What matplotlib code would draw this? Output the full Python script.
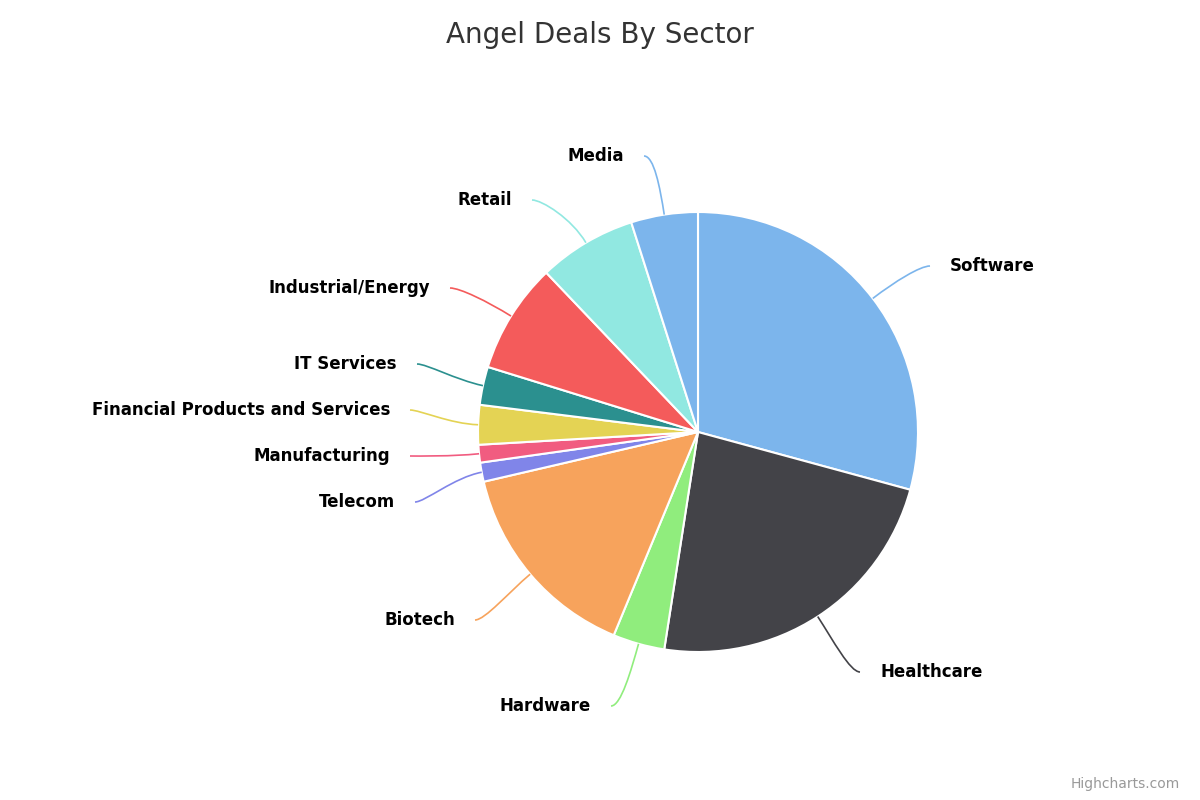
import numpy as np
import matplotlib
matplotlib.use("Agg")
import matplotlib.pyplot as plt
from matplotlib.path import Path
from matplotlib.patches import PathPatch

sectors = ["Software", "Healthcare", "Hardware", "Biotech", "Telecom", "Manufacturing",
           "Financial Products and Services", "IT Services", "Industrial/Energy", "Retail", "Media"]
shares = [29.2, 23.2, 3.8, 15.1, 1.4, 1.3, 2.9, 2.8, 8.1, 7.2, 4.9]
colors = ["#7cb5ec", "#434348", "#90ed7d", "#f7a35c", "#8085e9", "#f15c80",
          "#e4d354", "#2b908f", "#f45b5b", "#91e8e1", "#7cb5ec"]

# label layout (pixel positions, screen coords: x, y, side)
label_pos = [(950, 266, 'l'), (880, 672, 'l'), (591, 706, 'r'), (455, 620, 'r'),
             (395, 502, 'r'), (390, 456, 'r'), (390, 410, 'r'), (397, 364, 'r'),
             (430, 288, 'r'), (512, 200, 'r'), (624, 156, 'r')]

W, H = 1200, 800
cx, cy, R = 698, H - 432, 220

fig = plt.figure(figsize=(12, 8), dpi=100)
ax = fig.add_axes([0, 0, 1, 1])
ax.set_xlim(0, W); ax.set_ylim(0, H); ax.set_aspect('equal'); ax.axis('off')

wedges, _ = ax.pie(shares, colors=colors, startangle=90, counterclock=False,
                   center=(cx, cy), radius=R, frame=True,
                   wedgeprops=dict(edgecolor='white', linewidth=1.5))
ax.set_xlim(0, W); ax.set_ylim(0, H); ax.axis('off')

for w, name, col, (lx, ly, side) in zip(wedges, sectors, colors, label_pos):
    th = np.deg2rad((w.theta1 + w.theta2) / 2)
    d = np.array([np.cos(th), np.sin(th)])
    p0 = np.array([cx, cy]) + R * d
    ctrl = np.array([cx, cy]) + (R + 28) * d
    ly_d = H - ly
    if side == 'l':
        end = np.array([lx - 20, ly_d]); ha = 'left'
    else:
        end = np.array([lx + 20, ly_d]); ha = 'right'
    c2 = np.array([end[0] + (-10 if side == 'l' else 10), end[1]])
    path = Path([p0, ctrl, c2, end], [Path.MOVETO, Path.CURVE4, Path.CURVE4, Path.CURVE4])
    ax.add_patch(PathPatch(path, fill=False, edgecolor=col, lw=1.2))
    ax.text(lx, ly_d, name, ha=ha, va='center', fontsize=12, fontweight='bold', color='black')

fig.text(0.5, 1 - 35 / H, "Angel Deals By Sector", ha='center', va='center', fontsize=20, color='#333333')
fig.text(1 - 20 / W, 16 / H, "Highcharts.com", ha='right', va='center', fontsize=10, color='#999999')
fig.savefig("out.png", dpi=100, facecolor='white')
